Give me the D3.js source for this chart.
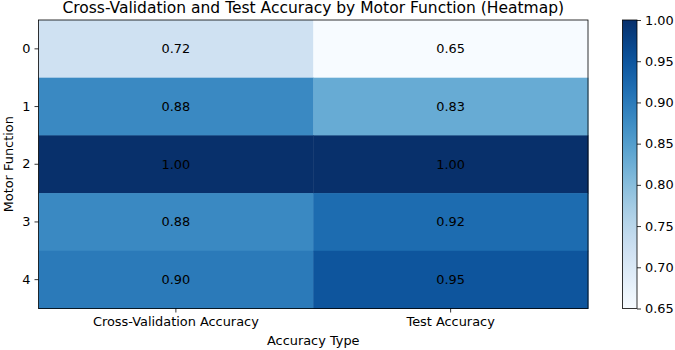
<!DOCTYPE html>
<html>
<head>
<meta charset="utf-8">
<script src="https://cdn.jsdelivr.net/npm/d3@7"></script>
<style>
  body { margin: 0; background: #fff; }
  text { font-family: "DejaVu Sans", sans-serif; fill: #000; }
</style>
</head>
<body>
<div id="chart"></div>
<script>
// heatmap data
var motorFunctions = ["0", "1", "2", "3", "4"];
var accuracyTypes = ["Cross-Validation Accuracy", "Test Accuracy"];
var cvAccuracy = [0.72, 0.88, 1.00, 0.88, 0.90];
var testAccuracy = [0.65, 0.83, 1.00, 0.92, 0.95];
var colorTicks = [0.65, 0.70, 0.75, 0.80, 0.85, 0.90, 0.95, 1.00];

var width = 675, height = 350;
var plot = {left: 38.5, top: 20, right: 588, bottom: 308.5};
var fs = "12.9px";

var svg = d3.select("#chart").append("svg")
  .attr("width", width).attr("height", height);

var cells = [];
motorFunctions.forEach(function(m, i){
  cells.push({row: m, col: accuracyTypes[0], v: cvAccuracy[i]});
  cells.push({row: m, col: accuracyTypes[1], v: testAccuracy[i]});
});

var x = d3.scaleBand().domain(accuracyTypes).range([plot.left, plot.right]);
var y = d3.scaleBand().domain(motorFunctions).range([plot.top, plot.bottom]);
var color = d3.scaleSequential(d3.interpolateBlues).domain([0.65, 1.0]);

svg.selectAll(".cell").data(cells).enter().append("rect")
  .attr("class", "cell")
  .attr("x", function(d){ return x(d.col); })
  .attr("y", function(d){ return y(d.row); })
  .attr("width", x.bandwidth() + 0.5)
  .attr("height", y.bandwidth() + 0.5)
  .attr("fill", function(d){ return color(d.v); });

svg.selectAll(".lbl").data(cells).enter().append("text")
  .attr("class", "lbl")
  .attr("x", function(d){ return x(d.col) + x.bandwidth()/2; })
  .attr("y", function(d){ return y(d.row) + y.bandwidth()/2; })
  .attr("dy", "0.35em")
  .attr("text-anchor", "middle")
  .attr("font-size", fs)
  .text(function(d){ return d.v.toFixed(2); });

svg.append("rect")
  .attr("x", plot.left).attr("y", plot.top)
  .attr("width", plot.right - plot.left).attr("height", plot.bottom - plot.top)
  .attr("fill", "none").attr("stroke", "#000").attr("stroke-width", 0.8);

// axes
var xAxis = svg.append("g")
  .attr("transform", "translate(0," + plot.bottom + ")")
  .call(d3.axisBottom(x).tickSize(4).tickPadding(4));
var yAxis = svg.append("g")
  .attr("transform", "translate(" + plot.left + ",0)")
  .call(d3.axisLeft(y).tickSize(4).tickPadding(4));
[xAxis, yAxis].forEach(function(a){
  a.select(".domain").remove();
  a.selectAll("text").attr("font-size", fs).attr("font-family", "DejaVu Sans, sans-serif").attr("fill", "#000");
  a.selectAll("line").attr("stroke", "#000").attr("stroke-width", 0.8);
});

svg.append("text")
  .attr("x", (plot.left + plot.right)/2).attr("y", 13)
  .attr("text-anchor", "middle").attr("font-size", "15.5px")
  .text("Cross-Validation and Test Accuracy by Motor Function (Heatmap)");

svg.append("text")
  .attr("x", (plot.left + plot.right)/2).attr("y", 345)
  .attr("text-anchor", "middle").attr("font-size", fs)
  .text("Accuracy Type");

svg.append("text")
  .attr("transform", "translate(13," + (plot.top + plot.bottom)/2 + ") rotate(-90)")
  .attr("text-anchor", "middle").attr("font-size", fs)
  .text("Motor Function");

// colorbar
var cb = {left: 622.5, right: 637, top: 20, bottom: 308.5};
var cbScale = d3.scaleLinear().domain([0.65, 1.0]).range([cb.bottom, cb.top]);
var defs = svg.append("defs");
var grad = defs.append("linearGradient").attr("id", "cbgrad")
  .attr("x1", "0").attr("y1", "1").attr("x2", "0").attr("y2", "0");
d3.range(0, 1.0001, 0.05).forEach(function(t){
  grad.append("stop").attr("offset", t).attr("stop-color", color(0.65 + t*0.35));
});
svg.append("rect")
  .attr("x", cb.left).attr("y", cb.top)
  .attr("width", cb.right - cb.left).attr("height", cb.bottom - cb.top)
  .attr("fill", "url(#cbgrad)")
  .attr("stroke", "#000").attr("stroke-width", 0.8);

var cbAxis = svg.append("g")
  .attr("transform", "translate(" + cb.right + ",0)")
  .call(d3.axisRight(cbScale).tickValues(colorTicks).tickFormat(d3.format(".2f")).tickSize(4).tickPadding(4));
cbAxis.select(".domain").remove();
cbAxis.selectAll("text").attr("font-size", fs).attr("font-family", "DejaVu Sans, sans-serif").attr("fill", "#000");
cbAxis.selectAll("line").attr("stroke", "#000").attr("stroke-width", 0.8);
</script>
</body>
</html>
